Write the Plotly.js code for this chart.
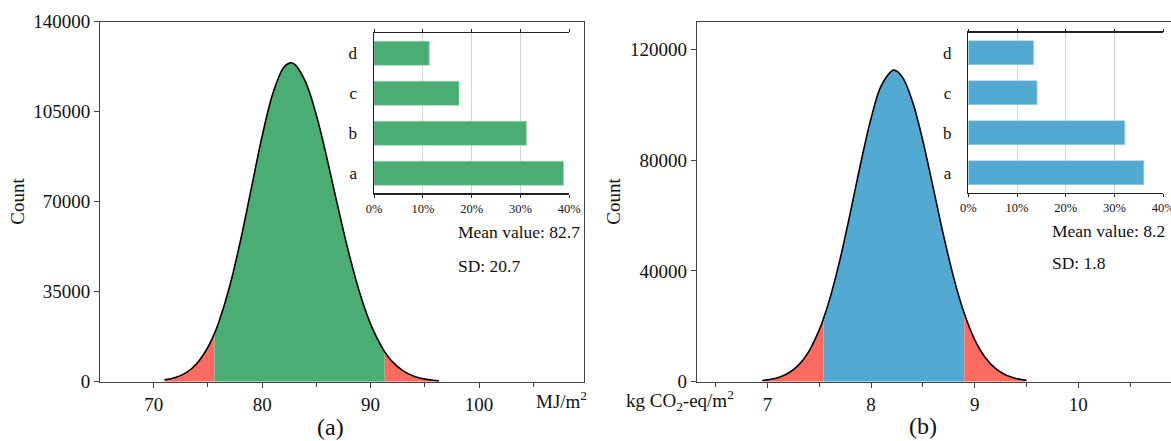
<!DOCTYPE html>
<html><head><meta charset="utf-8">
<script src="https://cdn.plot.ly/plotly-3.0.1.min.js"></script>
<style>html,body{margin:0;padding:0;background:#fff}</style>
</head><body>
<div id="chart" style="width:1171px;height:441px"></div>
<script>
// ---- data ----
const energyX = [71,72,73,74,75,75.6,76,77,78,79,80,81,82,82.6,83,84,85,86,87,88,89,90,91,91.3,92,93,94,95,96,96.3];
const energyY = [700,1600,3500,7200,13400,18700,23100,37000,54800,75200,95500,112300,122300,124000,123400,116600,103600,86400,67700,49900,34500,22400,13700,11600,7800,4200,2100,1000,450,300];
const energyBounds = [75.6, 91.3];

const carbonX = [6.95,7.0,7.1,7.2,7.3,7.4,7.5,7.54,7.6,7.7,7.8,7.9,8.0,8.1,8.22,8.3,8.4,8.5,8.6,8.7,8.8,8.9,9.0,9.1,9.2,9.3,9.4,9.5];
const carbonY = [420,650,1460,3070,6000,10970,18690,22700,29720,44100,61070,78900,95100,107000,112500,110130,101140,86940,69990,52750,37230,24600,15220,8820,4790,2430,1160,515];
const carbonBounds = [7.54, 8.9];

const insetCategories = ['a','b','c','d'];
const energyShares = [38.8, 31.2, 17.4, 11.3];
const carbonShares = [36.0, 32.1, 14.1, 13.4];

const energyStats = ['Mean value: 82.7', 'SD: 20.7'];
const carbonStats = ['Mean value: 8.2', 'SD: 1.8'];

// ---- styling ----
const GREEN = '#4aad73', BLUE = '#52aad3', RED = '#fc6b62';
const FONT = 'Liberation Serif, Times New Roman, serif';
const AX = '#444';

function seg(xs, ys, lo, hi) {
  const x = [], y = [];
  xs.forEach((v, i) => { if (v >= lo && v <= hi) { x.push(v); y.push(ys[i]); } });
  return {x, y};
}
function areaTraces(xs, ys, b, mid, xa, ya) {
  const parts = [
    [seg(xs, ys, -Infinity, b[0]), RED],
    [seg(xs, ys, b[0], b[1]), mid],
    [seg(xs, ys, b[1], Infinity), RED]
  ];
  const tr = parts.map(([s, c]) => ({
    type: 'scatter', mode: 'lines', x: s.x, y: s.y, xaxis: xa, yaxis: ya,
    fill: 'tozeroy', fillcolor: c, line: {width: 0, shape: 'spline', color: c},
    hoverinfo: 'skip'
  }));
  tr.push({type: 'scatter', mode: 'lines', x: xs, y: ys, xaxis: xa, yaxis: ya,
    line: {color: '#000', width: 1.6, shape: 'spline'}, hoverinfo: 'skip'});
  return tr;
}

const traces = [
  ...areaTraces(energyX, energyY, energyBounds, GREEN, 'x', 'y'),
  ...areaTraces(carbonX, carbonY, carbonBounds, BLUE, 'x2', 'y2'),
  {type: 'bar', orientation: 'h', y: insetCategories, x: energyShares, xaxis: 'x3', yaxis: 'y3',
   marker: {color: GREEN, line: {color: '#8fd1a8', width: 0.6}}, width: 0.6},
  {type: 'bar', orientation: 'h', y: insetCategories, x: carbonShares, xaxis: 'x4', yaxis: 'y4',
   marker: {color: BLUE, line: {color: '#9ad2ea', width: 0.6}}, width: 0.6}
];

const mainX = {showline: true, linecolor: AX, linewidth: 1, mirror: true, ticks: 'outside',
  ticklen: 5, tickcolor: AX, showgrid: false, zeroline: false,
  tickfont: {family: FONT, size: 19, color: '#111'}};
const mainY = Object.assign({}, mainX, {tickformat: 'd'});
const insetX = {range: [0, 40], dtick: 10, tick0: 0, ticksuffix: '%', showgrid: true,
  gridcolor: '#d4d4d4', gridwidth: 1, showline: true, linecolor: '#222', linewidth: 1.2,
  mirror: 'ticks', ticks: 'outside', ticklen: 3, tickcolor: '#222', zeroline: false,
  ticklabeloverflow: 'allow',
  tickfont: {family: FONT, size: 12.5, color: '#111'}};
const insetY = {type: 'category', categoryorder: 'array', categoryarray: insetCategories,
  range: [-0.5, 3.5], showline: true, linecolor: '#222', linewidth: 1.5, ticks: 'outside',
  ticklen: 12, tickcolor: 'rgba(0,0,0,0)', showgrid: false, zeroline: false,
  tickfont: {family: FONT, size: 17, color: '#111'}};

const W = 1171, H = 441;
const px = v => v / W, py = v => 1 - v / H;

const layout = {
  width: W, height: H, margin: {l: 0, r: 0, t: 0, b: 0},
  paper_bgcolor: '#fff', plot_bgcolor: '#fff', showlegend: false,
  font: {family: FONT, color: '#111'},
  xaxis: Object.assign({}, mainX, {domain: [px(100), px(584.3)], range: [65.05, 109.7], anchor: 'y',
    dtick: 10, tick0: 0, minor: {dtick: 5, tick0: 0, ticks: 'outside', ticklen: 4, tickcolor: AX}}),
  yaxis: Object.assign({}, mainY, {domain: [py(381.7), py(21.7)], range: [0, 140000], dtick: 35000, anchor: 'x'}),
  xaxis2: Object.assign({}, mainX, {domain: [px(696.7), 1], range: [6.317, 10.895], anchor: 'y2',
    dtick: 1, tick0: 0, minor: {dtick: 0.5, tick0: 0, ticks: 'outside', ticklen: 4, tickcolor: AX}}),
  yaxis2: Object.assign({}, mainY, {domain: [py(381.7), py(21.7)], range: [0, 130000], dtick: 40000,
    anchor: 'x2', mirror: false}),
  xaxis3: Object.assign({}, insetX, {domain: [px(374), px(569.3)], anchor: 'y3'}),
  yaxis3: Object.assign({}, insetY, {domain: [py(193.3), py(33.3)], anchor: 'x3'}),
  xaxis4: Object.assign({}, insetX, {domain: [px(968.3), px(1163.3)], anchor: 'y4'}),
  yaxis4: Object.assign({}, insetY, {domain: [py(192.7), py(32.7)], anchor: 'x4'}),
  annotations: [
    {text: 'Count', x: px(18), y: py(201.7), textangle: -90, font: {size: 19}},
    {text: 'Count', x: px(614), y: py(201.7), textangle: -90, font: {size: 19}},
    {text: 'MJ/m<sup>2</sup>', x: px(561), y: py(400), font: {size: 19}},
    {text: 'kg CO<sub>2</sub>-eq/m<sup>2</sup>', x: px(680), y: py(400), font: {size: 19}},
    {text: '(a)', x: px(330), y: py(427), font: {size: 24}},
    {text: '(b)', x: px(923), y: py(426), font: {size: 24}},
    {text: energyStats[0], x: px(456), y: py(232), xanchor: 'left', font: {size: 17.5}},
    {text: energyStats[1], x: px(456), y: py(266), xanchor: 'left', font: {size: 17.5}},
    {text: carbonStats[0], x: px(1050), y: py(231), xanchor: 'left', font: {size: 17.5}},
    {text: carbonStats[1], x: px(1050), y: py(263), xanchor: 'left', font: {size: 17.5}}
  ].map(a => Object.assign({xref: 'paper', yref: 'paper', showarrow: false,
    xanchor: 'center', yanchor: 'middle'}, a, {font: Object.assign({family: FONT, color: '#111'}, a.font)}))
};

Plotly.newPlot('chart', traces, layout, {staticPlot: true, displayModeBar: false});
</script>
</body></html>
